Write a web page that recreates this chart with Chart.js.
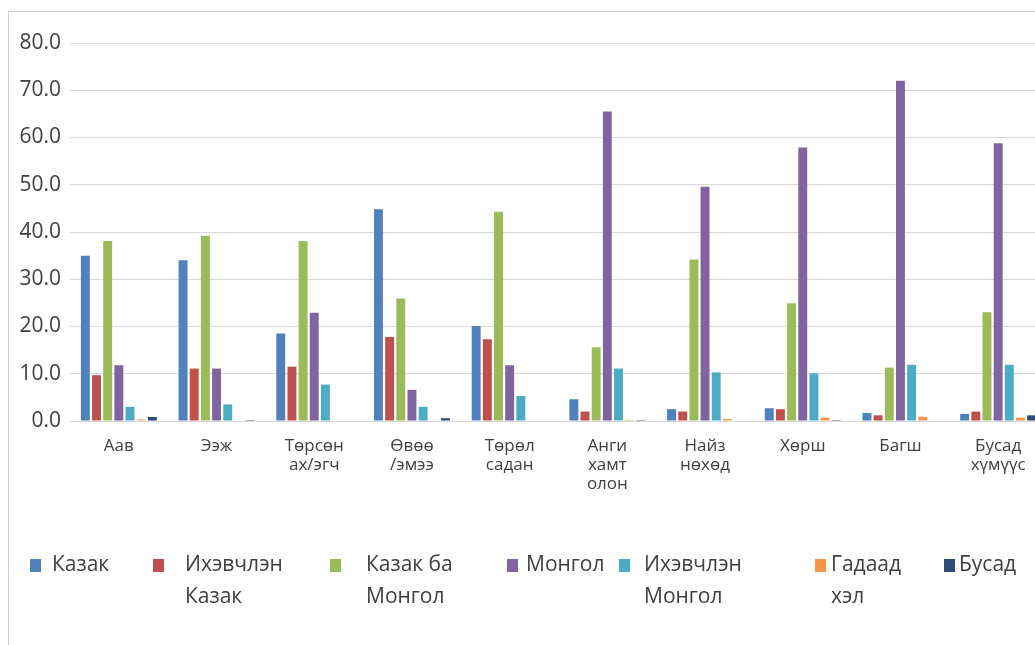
<!DOCTYPE html>
<html>
<head>
<meta charset="utf-8">
<script src="https://cdn.jsdelivr.net/npm/chart.js@4.4.0/dist/chart.umd.min.js"></script>
<style>
    html, body { margin: 0; padding: 0; background: #fff; overflow: hidden; width: 1035px; height: 645px; }
    #frame { position: absolute; left: 8px; top: 11px; width: 1100px; height: 700px; border-left: 1px solid #d0d0d0; border-top: 1px solid #d0d0d0; }
    #chart { position: absolute; left: 0; top: 0; }
    #legend { position: absolute; left: 0; top: 0; width: 1035px; font-family: "Open Sans", sans-serif; font-size: 21px; color: #404040; }
    .box { position: absolute; top: 559px; width: 11px; height: 13px; }
    .txt { position: absolute; top: 547px; line-height: 32px; white-space: pre; }
</style>
</head>
<body>
<div id="frame"></div>
<canvas id="chart" width="1047" height="645"></canvas>
<div id="legend"></div>
<script>
const categories = [
    'Аав',
    'Ээж',
    ['Төрсөн', 'ах/эгч'],
    ['Өвөө', '/эмээ'],
    ['Төрөл', 'садан'],
    ['Анги', 'хамт', 'олон'],
    ['Найз', 'нөхөд'],
    'Хөрш',
    'Багш',
    ['Бусад', 'хүмүүс']
];

const seriesNames = ['Казак', 'Ихэвчлэн\nКазак', 'Казак ба\nМонгол', 'Монгол', 'Ихэвчлэн\nМонгол', 'Гадаад\nхэл', 'Бусад'];

const kazakh       = [35.0, 34.0, 18.5, 44.8, 20.1, 4.6, 2.5, 2.7, 1.7, 1.5];
const mostlyKazakh = [9.7, 11.1, 11.5, 17.8, 17.3, 2.0, 2.0, 2.5, 1.2, 2.0];
const kazakhMongol = [38.1, 39.2, 38.1, 25.9, 44.3, 15.6, 34.2, 24.9, 11.3, 23.0];
const mongol       = [11.8, 11.1, 22.9, 6.6, 11.8, 65.5, 49.6, 57.9, 72.0, 58.8];
const mostlyMongol = [3.0, 3.5, 7.7, 3.0, 5.3, 11.1, 10.3, 10.1, 11.9, 11.9];
const foreign      = [0.3, 0, 0, 0, 0, 0.2, 0.4, 0.7, 0.9, 0.7];
const other        = [0.85, 0.2, 0, 0.6, 0, 0.2, 0, 0.2, 0, 1.2];

const yTicks = [0, 10, 20, 30, 40, 50, 60, 70, 80];

const seriesValues = [kazakh, mostlyKazakh, kazakhMongol, mongol, mostlyMongol, foreign, other];
const colors = ['#4F81BD', '#C0504D', '#9BBB59', '#8064A2', '#4BACC6', '#F79646', '#2C4D75'];

// legend placement (layout only)
const legendBoxX = [30, 153, 330, 507, 619, 815, 944];
const legendTextX = [52, 185, 366, 526, 644, 831, 959];

const datasets = seriesValues.map((values, i) => ({
    label: seriesNames[i],
    data: values,
    backgroundColor: colors[i],
    borderWidth: 0,
    categoryPercentage: 0.8,
    barPercentage: 0.8
}));

const ctx = document.getElementById('chart');

new Chart(ctx, {
    type: 'bar',
    data: { labels: categories, datasets: datasets },
    options: {
        responsive: false,
        animation: false,
        layout: { padding: { left: 0, right: 0, top: 43, bottom: 0 } },
        plugins: {
            legend: { display: false },
            tooltip: { enabled: false }
        },
        scales: {
            x: {
                grid: { display: false, drawTicks: false },
                border: { display: false },
                ticks: {
                    color: '#404040',
                    font: { family: 'Open Sans', size: 17, lineHeight: 1.12 },
                    padding: 16,
                    maxRotation: 0,
                    autoSkip: false
                },
                afterFit: (scale) => { scale.height = 645 - 43 - 378; }
            },
            y: {
                min: 0,
                max: 80,
                afterBuildTicks: (scale) => { scale.ticks = yTicks.map(v => ({ value: v })); },
                grid: { color: '#d9d9d9', lineWidth: 1, drawTicks: false },
                border: { display: false },
                ticks: {
                    color: '#404040',
                    font: { family: 'Open Sans', size: 21 },
                    padding: 9,
                    callback: (v) => Number(v).toFixed(1)
                },
                afterFit: (scale) => { scale.width = 70; }
            }
        }
    }
});

const legend = document.getElementById('legend');
seriesNames.forEach((name, i) => {
    const box = document.createElement('div');
    box.className = 'box';
    box.style.left = legendBoxX[i] + 'px';
    box.style.background = colors[i];
    legend.appendChild(box);
    const txt = document.createElement('div');
    txt.className = 'txt';
    txt.style.left = legendTextX[i] + 'px';
    txt.textContent = name;
    legend.appendChild(txt);
});
</script>
</body>
</html>
